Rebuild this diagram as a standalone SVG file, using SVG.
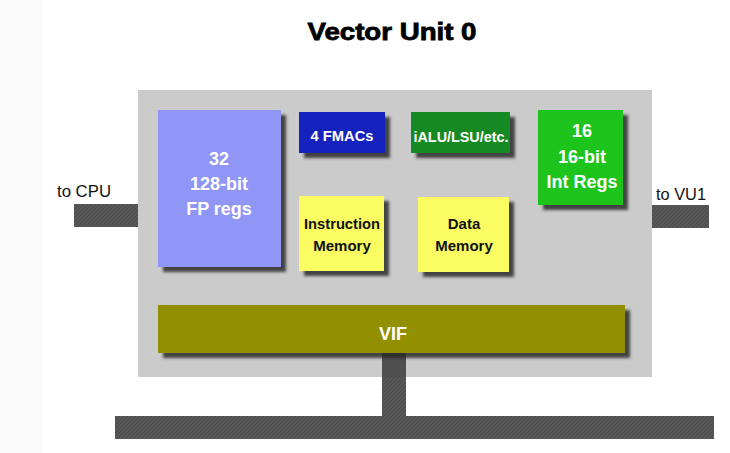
<svg xmlns="http://www.w3.org/2000/svg" width="730" height="453" viewBox="0 0 730 453">
<defs>
<filter id="sh" x="-10%" y="-10%" width="130%" height="140%">
<feDropShadow dx="5" dy="5" stdDeviation="1.6" flood-color="#2a2a2a" flood-opacity="0.85"/>
</filter>
<pattern id="hatch" width="4" height="4" patternUnits="userSpaceOnUse">
<rect width="4" height="4" fill="#575757"/>
<path d="M0 4 L4 0" stroke="#4a4a4a" stroke-width="1"/>
</pattern>
<style>
.t{font-family:"Liberation Sans",Arial,sans-serif;font-weight:bold;text-anchor:middle}
.w{fill:#ffffff}
.k{fill:#111111}
.lbl{font-family:"Liberation Sans",Arial,sans-serif;font-size:16px;fill:#111}
.bar{fill:url(#hatch)}
</style>
</defs>
<rect width="730" height="453" fill="#ffffff"/>
<rect x="0" y="0" width="42" height="453" fill="#f9f9f9"/>
<text class="t" x="392" y="40" font-size="24" textLength="169" lengthAdjust="spacingAndGlyphs" fill="#000" stroke="#000" stroke-width="0.8">Vector Unit 0</text>

<g id="connectors">
<rect class="bar" x="74" y="204" width="66" height="23"/>
<rect class="bar" x="650" y="205" width="59" height="23"/>
<rect class="bar" x="115" y="416" width="599" height="23"/>
<rect class="bar" x="382" y="350" width="24" height="68"/>
</g>

<g id="vector-unit">
<rect x="138" y="90" width="514" height="287" fill="#cbcbcb"/>
</g>
<rect x="382" y="353" width="24" height="24" fill="#4f4f4f"/>

<g id="fp-regs">
<rect x="158" y="110" width="123" height="157" fill="#9096f6" filter="url(#sh)"/>
<text class="t w" x="219" y="165" font-size="18">32</text>
<text class="t w" x="219" y="190" font-size="18">128-bit</text>
<text class="t w" x="219" y="215" font-size="18">FP regs</text>
</g>

<g id="fmacs">
<rect x="299" y="112" width="86" height="41" fill="#1424be" filter="url(#sh)"/>
<text class="t w" x="342" y="141" font-size="15" textLength="63" lengthAdjust="spacingAndGlyphs">4 FMACs</text>
</g>

<g id="ialu">
<rect x="411" y="112" width="99" height="41" fill="#138a22" filter="url(#sh)"/>
<text class="t w" x="461" y="142" font-size="15" textLength="95" lengthAdjust="spacingAndGlyphs">iALU/LSU/etc.</text>
</g>

<g id="int-regs">
<rect x="538" y="110" width="85" height="95" fill="#1ec41e" filter="url(#sh)"/>
<text class="t w" x="582" y="137" font-size="18">16</text>
<text class="t w" x="582" y="163" font-size="18">16-bit</text>
<text class="t w" x="582" y="188" font-size="18">Int Regs</text>
</g>

<g id="instruction-memory">
<rect x="299" y="196" width="85" height="75" fill="#fbfb62" filter="url(#sh)"/>
<text class="t k" x="342" y="229" font-size="15" textLength="76" lengthAdjust="spacingAndGlyphs">Instruction</text>
<text class="t k" x="342" y="251" font-size="15">Memory</text>
</g>

<g id="data-memory">
<rect x="418" y="197" width="91" height="75" fill="#fbfb62" filter="url(#sh)"/>
<text class="t k" x="464" y="229" font-size="15">Data</text>
<text class="t k" x="464" y="251" font-size="15">Memory</text>
</g>

<g id="vif">
<rect x="158" y="305" width="467" height="48" fill="#939000" filter="url(#sh)"/>
<text class="t w" x="393" y="340" font-size="18">VIF</text>
</g>

<text class="lbl" x="57" y="197" textLength="54" lengthAdjust="spacingAndGlyphs">to CPU</text>
<text class="lbl" x="656" y="200" textLength="50" lengthAdjust="spacingAndGlyphs">to VU1</text>
</svg>
